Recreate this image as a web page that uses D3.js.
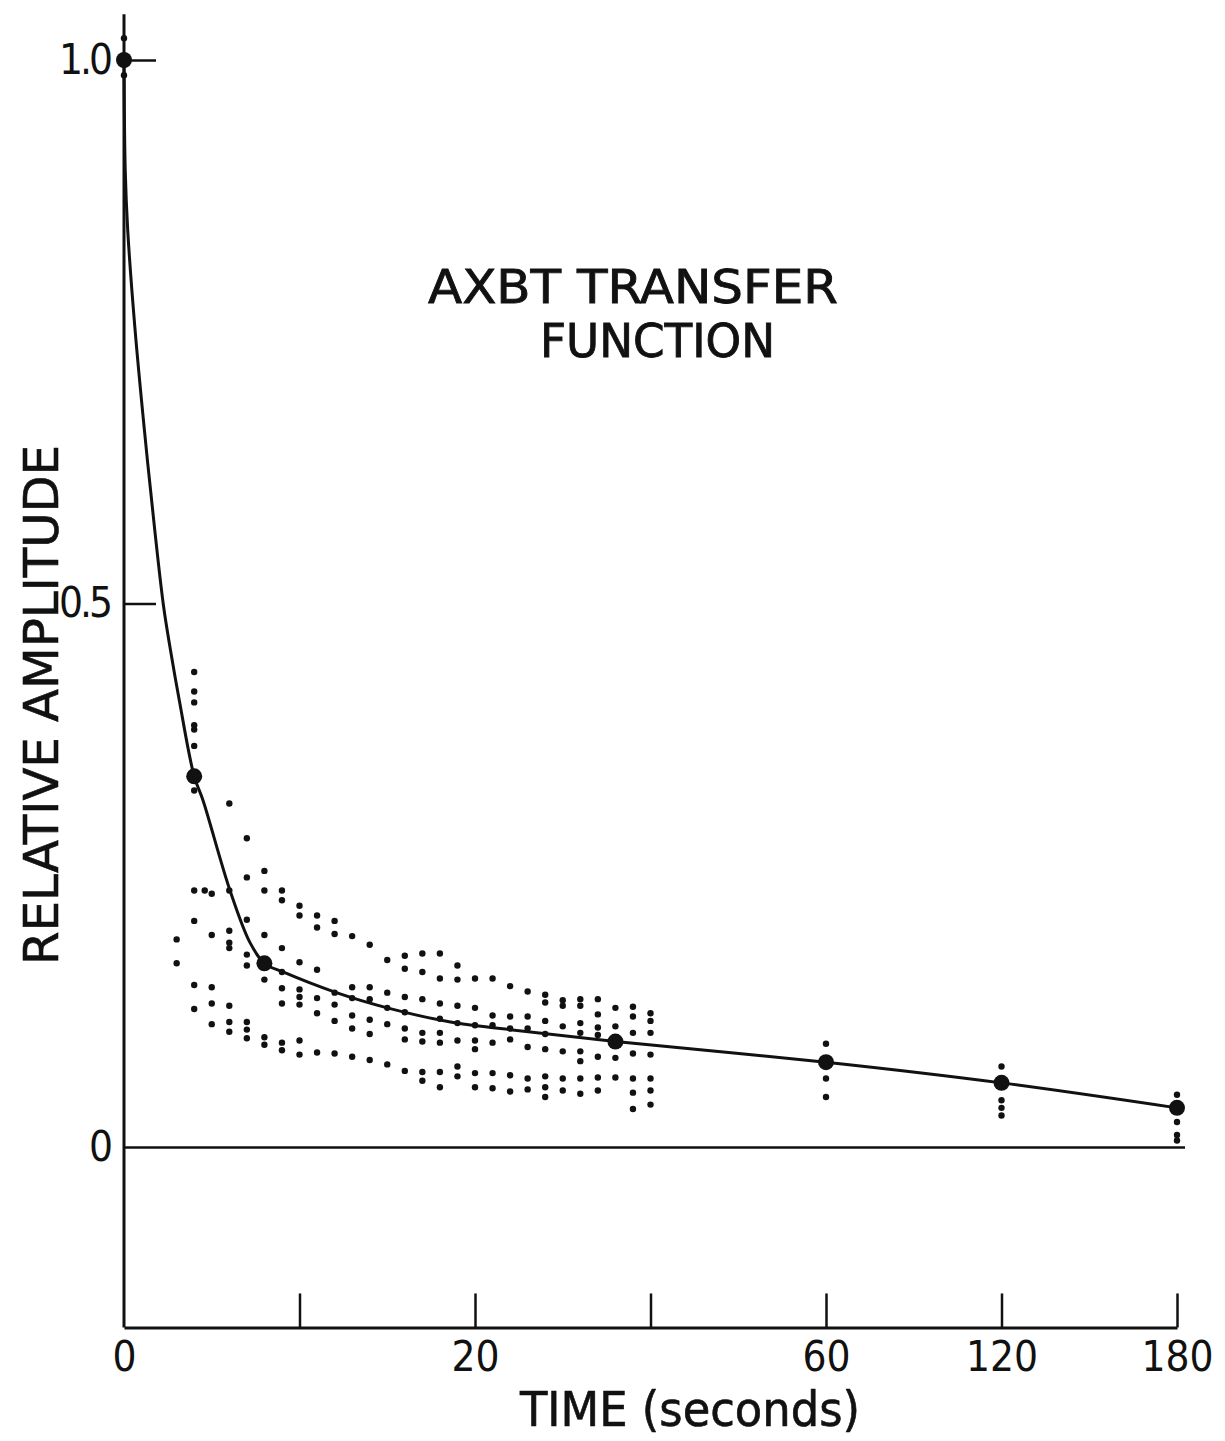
<!DOCTYPE html>
<html>
<head>
<meta charset="utf-8">
<script src="https://cdn.jsdelivr.net/npm/d3@7/dist/d3.min.js"></script>
<style>
    body {margin: 0; background: #fff;}
    text {font-family: "DejaVu Sans", sans-serif; font-stretch: condensed; fill: #111;}
</style>
</head>
<body>
<div id="chart"></div>
<script>
// x ticks: 0-30 s linear, then 60 / 120 / 180 s at the same spacing
const xTickValues = [0, 10, 20, 30, 60, 120, 180];
const xTickLabels = ['0', '', '20', '', '60', '120', '180'];
const yTickValues = [0, 0.5, 1.0];

// mean values (big dots)
const meanTimes = [0, 4, 8, 28, 60, 120, 180];
const meanValues = [1.0, 0.341, 0.169, 0.097, 0.078, 0.059, 0.036];

// fitted curve
const curveTimes = [0, 0.07, 0.21, 0.63, 1.16, 1.75, 2.25, 2.65, 3.15, 4, 4.5, 6.04, 7.18, 8, 9.06, 12.1, 15.0, 18.6, 20.9, 28, 60, 120, 180];
const curveValues = [1.0, 0.899, 0.844, 0.752, 0.660, 0.568, 0.498, 0.457, 0.411, 0.341, 0.319, 0.236, 0.188, 0.169, 0.161, 0.142, 0.128, 0.115, 0.110, 0.097, 0.078, 0.059, 0.036];

// individual records, one column per second
const dotTimes = [0, 3, 4, 4.6, 5, 6, 7, 8, 9, 10, 11, 12, 13, 14, 15, 16, 17, 18, 19, 20, 21, 22, 23, 24, 25, 26, 27, 28, 29, 30, 60, 120, 180];
const dotValues = [
    [1.02, 0.986],
    [0.191, 0.169],
    [0.437, 0.419, 0.409, 0.388, 0.384, 0.369, 0.328, 0.236, 0.208, 0.149, 0.127],
    [0.236],
    [0.233, 0.195, 0.147, 0.132, 0.113],
    [0.316, 0.236, 0.199, 0.188, 0.183, 0.130, 0.115, 0.106],
    [0.284, 0.248, 0.209, 0.177, 0.167, 0.115, 0.108, 0.100],
    [0.254, 0.236, 0.195, 0.154, 0.101, 0.094],
    [0.236, 0.227, 0.183, 0.161, 0.146, 0.132, 0.096, 0.089],
    [0.222, 0.213, 0.170, 0.145, 0.138, 0.131, 0.098, 0.085],
    [0.213, 0.202, 0.163, 0.137, 0.123, 0.087],
    [0.208, 0.196, 0.142, 0.131, 0.116, 0.086],
    [0.194, 0.147, 0.137, 0.121, 0.109, 0.083],
    [0.186, 0.147, 0.136, 0.117, 0.104, 0.080],
    [0.172, 0.142, 0.128, 0.113, 0.076],
    [0.176, 0.164, 0.138, 0.124, 0.109, 0.099, 0.070],
    [0.178, 0.161, 0.136, 0.105, 0.097, 0.069, 0.061],
    [0.178, 0.155, 0.132, 0.118, 0.105, 0.096, 0.069, 0.055],
    [0.167, 0.154, 0.130, 0.114, 0.098, 0.074, 0.065],
    [0.155, 0.128, 0.112, 0.098, 0.090, 0.068, 0.055],
    [0.155, 0.121, 0.112, 0.096, 0.068, 0.054],
    [0.148, 0.120, 0.109, 0.099, 0.066, 0.051],
    [0.143, 0.120, 0.109, 0.092, 0.063, 0.053],
    [0.140, 0.133, 0.116, 0.104, 0.090, 0.065, 0.055, 0.046],
    [0.135, 0.130, 0.111, 0.088, 0.063, 0.052],
    [0.136, 0.130, 0.114, 0.105, 0.088, 0.079, 0.063, 0.049],
    [0.136, 0.122, 0.110, 0.103, 0.083, 0.064, 0.052],
    [0.128, 0.111, 0.082, 0.064],
    [0.129, 0.120, 0.105, 0.086, 0.063, 0.050, 0.035],
    [0.123, 0.116, 0.105, 0.085, 0.063, 0.052, 0.039],
    [0.095, 0.063, 0.046],
    [0.074, 0.043, 0.036, 0.029],
    [0.048, 0.023, 0.011, 0.006]
];

const width = 1225, height = 1441;
const svg = d3.select('#chart').append('svg')
    .attr('width', width)
    .attr('height', height);
svg.append('rect').attr('width', width).attr('height', height).attr('fill', '#fff');

// piecewise x scale, every tick equally spaced
const x0 = 124, xStep = 175.5;
const xScale = d3.scaleLinear()
    .domain(xTickValues)
    .range(xTickValues.map((d, i) => x0 + i * xStep));
const yScale = d3.scaleLinear()
    .domain([0, 1])
    .range([1147, 60]);

const yTop = 1.042, yBottom = -0.166;
const axisY = yScale(yBottom);

//y axis line
svg.append('line')
    .attr('x1', xScale(0)).attr('x2', xScale(0))
    .attr('y1', yScale(yTop)).attr('y2', axisY)
    .attr('stroke', '#111').attr('stroke-width', 3);

//y axis ticks point right, labels on the left
const yAxis = d3.axisLeft(yScale)
    .tickValues(yTickValues)
    .tickSizeInner(-32)
    .tickSizeOuter(0)
    .tickPadding(14)
    .tickFormat(d => d === 0 ? '0' : d3.format('.1f')(d));
const yG = svg.append('g')
    .attr('transform', 'translate(' + xScale(0) + ',0)')
    .call(yAxis);
yG.select('.domain').remove();
yG.selectAll('.tick line').attr('stroke', '#111').attr('stroke-width', 2.5);
// the zero tick runs across the whole plot
yG.selectAll('.tick').filter(d => d === 0).select('line')
    .attr('x2', xScale(180) + 8 - xScale(0));
yG.selectAll('.tick text')
    .attr('font-size', 42)
    .attr('letter-spacing', -3)
    .attr('fill', '#111');

//x axis
const xAxis = d3.axisBottom(xScale)
    .tickValues(xTickValues)
    .tickSizeInner(-34)
    .tickSizeOuter(0)
    .tickPadding(14)
    .tickFormat((d, i) => xTickLabels[i]);
const xG = svg.append('g')
    .attr('transform', 'translate(0,' + axisY + ')')
    .call(xAxis);
xG.select('.domain').attr('stroke', '#111').attr('stroke-width', 3);
xG.selectAll('.tick line').attr('stroke', '#111').attr('stroke-width', 2.5);
xG.selectAll('.tick').filter(d => d === 0).select('line').remove();
xG.selectAll('.tick text').attr('font-size', 42).attr('fill', '#111');

//scatter of individual records
let dots = [];
dotTimes.forEach((t, i) => {
    dotValues[i].forEach(v => dots.push({t: t, v: v}));
});
svg.append('g').selectAll('circle')
    .data(dots)
    .enter()
    .append('circle')
    .attr('cx', d => xScale(d.t))
    .attr('cy', d => yScale(d.v))
    .attr('r', 3.2)
    .attr('fill', '#111');

//fitted curve
const curve = curveTimes.map((t, i) => ({t: t, v: curveValues[i]}));
const line = d3.line()
    .x(d => xScale(d.t))
    .y(d => yScale(d.v))
    .curve(d3.curveCatmullRom.alpha(0.5));
svg.append('path')
    .datum(curve)
    .attr('d', line)
    .attr('fill', 'none')
    .attr('stroke', '#111')
    .attr('stroke-width', 3);

//mean points
svg.append('g').selectAll('circle')
    .data(meanTimes.map((t, i) => ({t: t, v: meanValues[i]})))
    .enter()
    .append('circle')
    .attr('cx', d => xScale(d.t))
    .attr('cy', d => yScale(d.v))
    .attr('r', 8)
    .attr('fill', '#111');

//titles, a thin stroke thickens the lettering a little
svg.append('text')
    .attr('x', 428).attr('y', 303)
    .attr('font-size', 47)
    .attr('stroke', '#111').attr('stroke-width', 0.8)
    .attr('textLength', 410).attr('lengthAdjust', 'spacingAndGlyphs')
    .text('AXBT TRANSFER');
svg.append('text')
    .attr('x', 540).attr('y', 357)
    .attr('font-size', 47)
    .attr('stroke', '#111').attr('stroke-width', 0.8)
    .attr('textLength', 235).attr('lengthAdjust', 'spacingAndGlyphs')
    .text('FUNCTION');

svg.append('text')
    .attr('transform', 'translate(58,705) rotate(-90)')
    .attr('text-anchor', 'middle')
    .attr('font-size', 48)
    .attr('stroke', '#111').attr('stroke-width', 0.6)
    .attr('textLength', 520).attr('lengthAdjust', 'spacingAndGlyphs')
    .text('RELATIVE AMPLITUDE');

svg.append('text')
    .attr('x', 690).attr('y', 1426)
    .attr('text-anchor', 'middle')
    .attr('font-size', 48)
    .attr('stroke', '#111').attr('stroke-width', 0.6)
    .attr('textLength', 340).attr('lengthAdjust', 'spacingAndGlyphs')
    .text('TIME (seconds)');
</script>
</body>
</html>
